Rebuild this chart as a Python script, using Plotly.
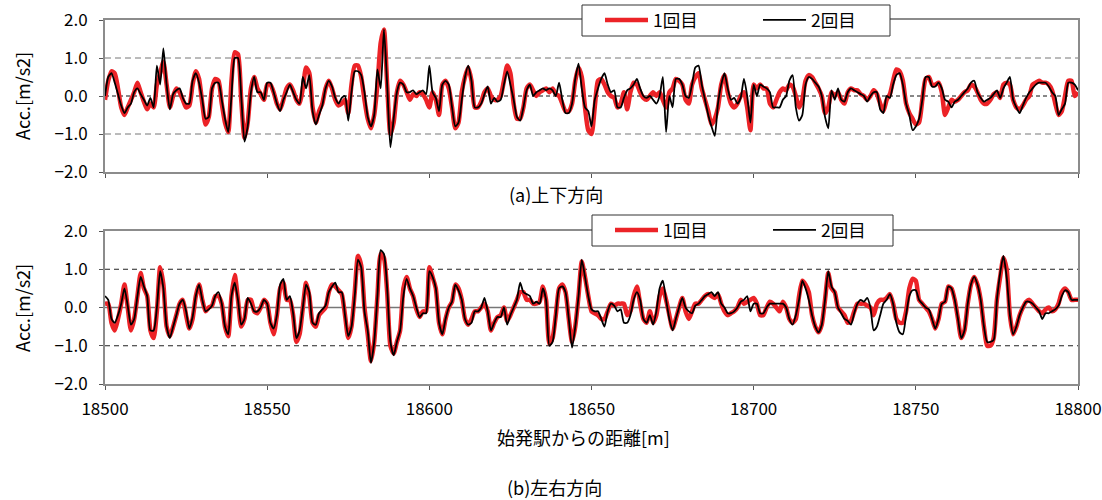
import plotly.graph_objects as go

distance = list(range(18500, 18801))

top_run1 = [
    -0.1, 0.4, 0.65, 0.6, 0.2, -0.3, -0.5, -0.3, -0.1, 0.1,
    0.35, 0.1, -0.15, -0.35, -0.2, -0.3, 0.3, 0.6, 0.9, 0.3,
    -0.3, 0.0, 0.2, 0.1, -0.1, -0.3, -0.25, 0.3, 0.65, 0.45,
    -0.2, -0.75, -0.55, 0.2, 0.45, 0.4, -0.2, -0.7, -0.95, 0.4,
    1.15, 1.1, -0.1, -1.1, -0.7, 0.2, 0.5, 0.2, 0.05, -0.1,
    0.3, 0.3, 0.1, -0.2, -0.35, -0.1, 0.2, 0.3, 0.15, -0.1,
    -0.2, 0.2, 0.75, 0.6, -0.3, -0.7, -0.4, -0.2, 0.2, 0.4,
    0.2, -0.1, -0.25, -0.2, -0.1, -0.45, 0.3, 0.8, 0.8, 0.5,
    -0.1, -0.6, -0.85, -0.5, 0.3, 1.4, 1.75, 0.3, -1.0, -0.7,
    0.1, 0.4, 0.3, 0.1, -0.1, 0.05, 0.0, 0.1, 0.05, -0.1,
    -0.3, 0.1, -0.1, -0.5, 0.3, 0.4, 0.2, -0.3, -0.85, -0.7,
    0.1, 0.5, 0.75, 0.4, -0.3, -0.3, -0.15, 0.1, 0.2, 0.0,
    -0.1, -0.1, 0.0, 0.4, 0.8, 0.6, -0.2, -0.6, -0.6, -0.3,
    0.2, 0.3, 0.15, 0.0, 0.1, 0.15, 0.2, 0.1, 0.2, 0.05,
    0.0, -0.2, -0.4, -0.4, -0.2, 0.4, 0.75, 0.5, -0.3, -0.9,
    -1.0, -0.3, 0.4, 0.45, 0.3, 0.1, 0.0, -0.05, -0.3, -0.2,
    0.1, -0.35, 0.1, 0.35, 0.3, 0.1, -0.05, -0.1, 0.0, 0.1,
    0.0, 0.1, -0.1, -0.3, 0.1, 0.2, 0.45, 0.4, 0.3, -0.1,
    -0.2, 0.3, 0.5, 0.6, 0.2, -0.1, -0.4, -0.75, -0.6, -0.3,
    0.3, 0.55, 0.1, -0.2, -0.3, -0.2, 0.0, 0.1, -0.3, -0.9,
    0.3, 0.2, 0.3, 0.2, 0.2, -0.2, -0.3, -0.1, 0.1, 0.2,
    0.15, 0.3, 0.25, 0.0, -0.3, -0.1, 0.4, 0.55, 0.5, 0.35,
    0.2, 0.0, -0.45, -0.3, 0.1, 0.0, 0.1, -0.1, -0.2, 0.1,
    0.2, 0.15, 0.15, 0.05, 0.0, -0.1, 0.0, 0.15, 0.05, -0.2,
    -0.4, -0.1, 0.05, 0.4, 0.7, 0.65, 0.4, -0.2, -0.45, -0.6,
    -0.75, -0.7, -0.1, 0.45, 0.5, 0.3, 0.3, 0.35, 0.1, -0.5,
    -0.3, -0.1, -0.15, -0.1, 0.0, 0.1, 0.15, 0.3, 0.25, 0.1,
    -0.1, -0.2, -0.2, -0.1, 0.05, 0.1, -0.05, 0.3, 0.35, 0.3,
    -0.1, -0.3, -0.35, -0.25, -0.1, 0.0, 0.3, 0.35, 0.4, 0.35,
    0.35, 0.3, 0.15, -0.2, -0.5, -0.4, 0.0, 0.4, 0.4, 0.0,
    0.1,
]

top_run2 = [
    0.0, 0.5, 0.6, 0.35, 0.05, -0.25, -0.45, -0.3, -0.2, 0.1,
    0.2, 0.05, -0.1, -0.25, -0.05, -0.3, 0.8, 0.3, 1.25, 0.3,
    -0.35, 0.05, 0.15, 0.2, -0.05, -0.2, -0.2, 0.4, 0.6, 0.35,
    -0.1, -0.6, -0.55, 0.2, 0.35, 0.35, -0.1, -0.6, -0.95, 0.0,
    1.0, 1.0, 0.0, -1.2, -0.8, 0.1, 0.5, 0.1, 0.1, -0.1,
    0.35, 0.35, 0.1, -0.2, -0.4, -0.1, 0.1, 0.3, 0.1, -0.1,
    -0.2, 0.5, 0.2, 0.55, -0.4, -0.75, -0.5, -0.25, 0.2, 0.4,
    0.25, -0.05, -0.2, -0.05, 0.0, -0.65, 0.1, 0.65, 0.65, 0.55,
    0.1, -0.55, -0.8, -0.5, 0.7, 0.2, 1.75, 0.3, -1.35, -0.6,
    0.1, 0.35, 0.3, 0.1, 0.1, 0.15, 0.05, 0.1, 0.15, 0.05,
    0.8, 0.1, -0.05, -0.4, 0.3, 0.4, 0.3, -0.3, -0.8, -0.7,
    -0.1, 0.5, 0.8, 0.4, -0.3, -0.3, -0.2, 0.05, 0.25, -0.2,
    -0.05, -0.15, -0.1, 0.3, 0.65, 0.3, -0.1, -0.55, -0.65, -0.3,
    0.15, 0.3, 0.0, 0.1, 0.15, 0.2, 0.15, 0.2, 0.15, 0.0,
    0.35, -0.1, -0.45, -0.45, -0.2, 0.45, 0.85, 0.2, -0.3, -0.4,
    -0.8, -0.1, 0.2, 0.45, 0.6, 0.3, 0.1, 0.15, -0.3, -0.3,
    -0.05, 0.15, 0.2, 0.3, 0.45, 0.2, 0.0, -0.05, 0.0, -0.1,
    -0.2, 0.0, 0.5, -0.95, 0.0, -0.3, 0.45, 0.45, 0.3, 0.0,
    -0.05, 0.3, 0.75, 0.8, 0.3, -0.1, -0.5, -0.8, -1.05, -0.2,
    0.3, 0.6, 0.2, -0.1, -0.05, -0.2, -0.05, 0.45, 0.0, -0.7,
    0.3, 0.0, 0.3, 0.25, 0.2, 0.1, -0.3, -0.3, -0.3, -0.1,
    0.0, 0.4, 0.55, -0.3, -0.65, -0.5, 0.3, 0.5, 0.45, 0.35,
    0.25, 0.0, -0.55, -0.85, 0.15, -0.1, 0.2, -0.1, -0.15, 0.1,
    0.2, 0.15, 0.1, 0.05, 0.0, -0.15, 0.0, 0.1, 0.1, -0.35,
    -0.45, 0.0, -0.05, 0.3, 0.55, 0.6, 0.3, -0.2, -0.5, -0.9,
    -0.8, -0.6, -0.1, 0.5, 0.5, 0.25, 0.25, 0.35, 0.2, -0.1,
    -0.15, -0.3, -0.15, -0.1, 0.0, 0.1, 0.2, 0.35, 0.4, 0.1,
    -0.05, -0.15, -0.1, -0.05, 0.05, 0.15, -0.05, 0.2, 0.35, 0.5,
    -0.1, -0.3, -0.45, -0.25, -0.05, 0.1, 0.2, 0.3, 0.35, 0.35,
    0.35, 0.25, 0.1, 0.0, -0.5, -0.35, -0.2, 0.35, 0.35, 0.3,
    0.15,
]

bottom_run1 = [
    0.1, 0.1, -0.4, -0.6, -0.3, 0.1, 0.6, 0.0, -0.6, -0.3,
    0.3, 0.9, 0.5, 0.3, -0.6, -0.8, -0.1, 1.05, 0.6, -0.5,
    -0.75, -0.5, -0.2, 0.1, 0.2, -0.2, -0.55, -0.3, 0.3, 0.6,
    0.2, -0.1, 0.0, 0.05, 0.3, 0.3, 0.1, -0.5, -0.75, 0.3,
    0.85, 0.2, -0.5, -0.3, 0.2, 0.2, -0.1, -0.15, 0.0, 0.2,
    0.1, -0.4, -0.7, -0.2, 0.5, 0.65, 0.2, 0.2, -0.2, -0.9,
    -0.7, 0.0, 0.65, 0.3, -0.4, -0.5, -0.2, -0.1, 0.0, 0.4,
    0.6, 0.55, 0.45, 0.35, -0.2, -0.8, -0.5, 0.4, 1.35, 1.1,
    0.0, -0.7, -1.4, -0.9, 0.3, 1.4, 1.3, 0.4, -1.0, -1.2,
    -0.9, -0.6, 0.5, 0.8, 0.5, 0.3, -0.05, -0.25, -0.1, -0.1,
    1.05, 0.8, 0.5, -0.4, -0.7, -0.3, 0.0, 0.15, 0.6, 0.5,
    0.2, -0.3, -0.45, -0.3, -0.1, -0.1, 0.0, 0.1, -0.1, -0.6,
    -0.4, -0.25, -0.2, 0.0, -0.35, -0.2, 0.0, 0.2, 0.4, 0.4,
    0.2, 0.2, 0.1, 0.1, 0.15, 0.55, 0.2, -0.95, -0.8, -0.2,
    0.5, 0.6, 0.4, -0.3, -0.9, -0.5, 0.3, 1.2, 0.8, 0.3,
    -0.1, -0.15, -0.2, -0.3, -0.3, -0.1, 0.1, 0.05, 0.1, 0.1,
    0.1, -0.2, -0.1, 0.3, 0.55, 0.1, -0.3, -0.4, -0.1, -0.4,
    -0.2, 0.3, 0.5, 0.2, -0.2, -0.55, -0.3, 0.0, 0.25, -0.1,
    -0.3, -0.1, 0.1, 0.1, 0.2, 0.3, 0.35, 0.3, 0.25, 0.35,
    0.1, -0.1, -0.2, -0.15, -0.1, 0.0, 0.2, 0.1, 0.15, 0.2,
    0.25, 0.1, -0.2, -0.2, 0.0, 0.15, 0.1, 0.0, -0.1, 0.15,
    0.0, -0.3, -0.4, -0.3, 0.3, 0.7, 0.6, 0.4, -0.2, -0.5,
    -0.65, -0.45, 0.2, 0.9, 0.5, 0.4, 0.0, -0.1, -0.2, -0.4,
    -0.35, -0.1, 0.1, 0.1, 0.1, 0.05, 0.0, -0.2, 0.1, 0.2,
    0.2, 0.25, 0.35, 0.1, -0.3, -0.4, -0.4, -0.1, 0.5, 0.75,
    0.7, 0.2, 0.1, 0.0, -0.1, -0.3, -0.55, -0.3, 0.1, 0.15,
    0.55, 0.5, 0.2, -0.3, -0.8, -0.6, 0.1, 0.6, 0.8, 0.6,
    0.2, -0.5, -1.0, -1.0, -0.8, 0.2, 0.8, 1.3, 1.0, -0.2,
    -0.7, -0.5, -0.2, 0.0, 0.15, 0.2, 0.1, 0.0, -0.1, -0.15,
    -0.05, 0.0, -0.1, -0.05, 0.1, 0.4, 0.5, 0.4, 0.2, 0.2,
    0.2,
]

bottom_run2 = [
    0.3, 0.2, -0.3, -0.4, -0.2, 0.1, 0.5, 0.05, -0.45, -0.3,
    0.3, 0.8, 0.55, 0.3, -0.6, -0.6, 0.0, 0.95, 0.5, -0.5,
    -0.8, -0.5, -0.2, 0.1, 0.2, -0.1, -0.55, -0.25, 0.3, 0.6,
    0.2, -0.1, -0.05, 0.05, 0.3, 0.4, 0.1, -0.5, -0.7, 0.3,
    0.65, 0.2, -0.45, -0.3, 0.25, 0.1, -0.1, -0.1, 0.0, 0.2,
    0.1, -0.4, -0.55, -0.2, 0.6, 0.75, 0.2, 0.3, -0.15, -0.8,
    -0.6, 0.0, 0.6, 0.4, -0.4, -0.45, -0.15, -0.05, 0.05, 0.4,
    0.55, 0.65, 0.4, 0.4, -0.2, -0.75, -0.5, 0.3, 1.25, 1.05,
    -0.1, -0.6, -1.45, -0.9, 0.3, 1.5, 1.4, 0.5, -0.9, -1.25,
    -0.9, -0.6, 0.3, 0.75, 0.5, 0.3, 0.0, -0.25, -0.15, -0.15,
    0.95, 0.8, 0.5, -0.4, -0.7, -0.3, 0.0, 0.15, 0.6, 0.45,
    0.2, -0.3, -0.45, -0.4, -0.1, -0.1, 0.0, 0.25, -0.1, -0.6,
    -0.4, -0.25, -0.25, 0.0, -0.45, -0.2, 0.0, 0.2, 0.65, 0.4,
    0.35, 0.3, 0.1, 0.15, 0.1, 0.5, 0.2, -1.0, -0.9, -0.2,
    0.5, 0.55, 0.4, -0.3, -1.05, -0.5, 0.3, 1.25, 0.8, 0.3,
    -0.05, -0.1, -0.1, -0.3, -0.5, -0.1, 0.1, 0.05, -0.1, -0.05,
    -0.4, -0.4, -0.2, 0.2, 0.4, 0.2, -0.3, -0.4, -0.2, -0.45,
    -0.1, 0.5, 0.7, 0.2, -0.3, -0.6, -0.3, 0.0, 0.25, 0.0,
    -0.1, -0.15, 0.05, 0.1, 0.2, 0.3, 0.35, 0.4, 0.3, 0.4,
    0.1, 0.0, -0.15, -0.15, -0.1, 0.0, 0.15, 0.2, 0.3, -0.1,
    0.1, 0.1, -0.15, -0.15, 0.0, 0.1, 0.1, 0.1, 0.1, 0.1,
    0.0, -0.3, -0.45, -0.2, 0.2, 0.7, 0.5, 0.2, -0.2, -0.5,
    -0.65, -0.45, 0.2, 0.95, 0.55, 0.4, 0.0, -0.15, -0.3, -0.35,
    -0.45, -0.15, 0.1, 0.2, 0.15, 0.25, 0.0, -0.6, -0.5, -0.2,
    0.1, 0.2, 0.35, 0.1, -0.4, -0.65, -0.7, -0.2, 0.3, 0.45,
    0.45, 0.2, 0.1, 0.0, -0.05, -0.3, -0.55, -0.3, 0.1, 0.15,
    0.55, 0.5, 0.2, -0.3, -0.8, -0.6, 0.1, 0.6, 0.8, 0.6,
    0.2, -0.5, -0.9, -0.9, -0.85, 0.2, 0.9, 1.35, 0.8, -0.2,
    -0.7, -0.5, -0.2, 0.0, 0.15, 0.15, 0.1, 0.0, -0.1, -0.3,
    -0.15, -0.15, -0.1, -0.05, 0.05, 0.3, 0.45, 0.4, 0.2, 0.2,
    0.2,
]

series_names = ["1回目", "2回目"]
panel_titles = ["(a)上下方向", "(b)左右方向"]
x_title = "始発駅からの距離[m]"
y_title = "Acc.[m/s2]"
x_ticks = [18500, 18550, 18600, 18650, 18700, 18750, 18800]
y_ticks = [-2.0, -1.0, 0.0, 1.0, 2.0]

RED = "#ec2327"
FONT = "Noto Sans CJK JP, Noto Sans, sans-serif"
W, H = 1102, 500

line_shape = dict(shape="spline", smoothing=0.6)

fig = go.Figure()
fig.add_trace(go.Scatter(x=distance, y=top_run1, mode="lines", name=series_names[0],
                         line=dict(color=RED, width=4.5, **line_shape), xaxis="x", yaxis="y", legend="legend"))
fig.add_trace(go.Scatter(x=distance, y=top_run2, mode="lines", name=series_names[1],
                         line=dict(color="black", width=1.8, **line_shape), xaxis="x", yaxis="y", legend="legend"))
fig.add_trace(go.Scatter(x=distance, y=bottom_run1, mode="lines", name=series_names[0],
                         line=dict(color=RED, width=4.5, **line_shape), xaxis="x2", yaxis="y2", legend="legend2"))
fig.add_trace(go.Scatter(x=distance, y=bottom_run2, mode="lines", name=series_names[1],
                         line=dict(color="black", width=1.8, **line_shape), xaxis="x2", yaxis="y2", legend="legend2"))

px_x = lambda p: p / W
px_y = lambda p: 1 - p / H

xdom = [px_x(105), px_x(1078)]
axis_common = dict(showline=True, mirror=True, linecolor="#8c8c8c", linewidth=2,
                   showgrid=False, zeroline=False, ticks="outside", ticklen=4,
                   tickcolor="#555", automargin=False,
                   tickfont=dict(family=FONT, size=17, color="black"))

legend_common = dict(orientation="h", xanchor="left", yanchor="top",
                     bgcolor="rgba(0,0,0,0)", borderwidth=0,
                     font=dict(family=FONT, size=17.5, color="black"),
                     entrywidth=100, itemwidth=43)

fig.update_layout(
    width=W, height=H, margin=dict(l=0, r=0, t=0, b=0, autoexpand=False),
    paper_bgcolor="white", plot_bgcolor="white",
    font=dict(family=FONT, size=17, color="black"),
    xaxis=dict(domain=xdom, range=[18500, 18800], tickvals=x_ticks, showticklabels=False,
               anchor="y", **axis_common),
    yaxis=dict(domain=[px_y(172), px_y(20)], range=[-2, 2], tickvals=y_ticks,
               tickformat=".1f", anchor="x", ticklabelstandoff=8, **axis_common),
    xaxis2=dict(domain=xdom, range=[18500, 18800], tickvals=x_ticks, tickformat="d",
                anchor="y2", ticklabelstandoff=5, **axis_common),
    yaxis2=dict(domain=[px_y(384), px_y(231)], range=[-2, 2], tickvals=y_ticks,
                tickformat=".1f", anchor="x2", ticklabelstandoff=8, **axis_common),
    legend=dict(x=px_x(600), y=px_y(2), **legend_common),
    legend2=dict(x=px_x(610), y=px_y(212), **legend_common),
    showlegend=True,
)

shapes = []
for yref in ["y", "y2"]:
    xr = "x domain" if yref == "y" else "x2 domain"
    for v in [1, -1]:
        shapes.append(dict(type="line", xref=xr, yref=yref, x0=0, x1=1, y0=v, y1=v, layer="below",
                           line=dict(color="#777" if yref == "y" else "#222", width=1,
                                     dash="6px,4px" if yref == "y" else "5px,4px")))
    if yref == "y":
        shapes.append(dict(type="line", xref=xr, yref=yref, x0=0, x1=1, y0=0, y1=0, layer="below",
                           line=dict(color="#111", width=1, dash="4px,3px")))
    else:
        shapes.append(dict(type="line", xref=xr, yref=yref, x0=0, x1=1, y0=0, y1=0, layer="below",
                           line=dict(color="#777", width=1.5)))
# legend frames
for (x0, y0, x1, y1) in [(582, 5, 890, 36), (592, 215, 893, 246)]:
    shapes.append(dict(type="rect", xref="paper", yref="paper", layer="above",
                       x0=px_x(x0), x1=px_x(x1), y0=px_y(y1), y1=px_y(y0),
                       fillcolor="white", line=dict(color="#333", width=1)))
fig.update_layout(shapes=shapes)

ann = [
    dict(text=panel_titles[0], x=px_x(556), y=px_y(194)),
    dict(text=x_title, x=px_x(583), y=px_y(437)),
    dict(text=panel_titles[1], x=px_x(554), y=px_y(487)),
    dict(text=y_title, x=px_x(22), y=px_y(96), textangle=-90),
    dict(text=y_title, x=px_x(22), y=px_y(308), textangle=-90),
]
for a in ann:
    a.update(xref="paper", yref="paper", showarrow=False, xanchor="center", yanchor="middle",
             font=dict(family=FONT, size=18, color="black"))
fig.update_layout(annotations=ann)

fig.write_html("out.html")
